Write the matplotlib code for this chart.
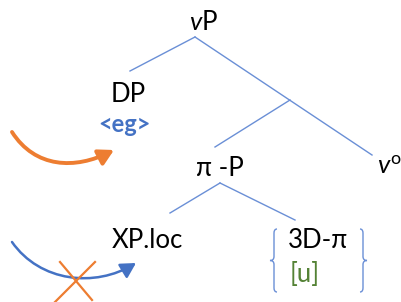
import matplotlib
matplotlib.use("Agg")
import matplotlib.pyplot as plt
from matplotlib.path import Path
from matplotlib.patches import PathPatch, FancyArrowPatch

W, H = 401, 302
BLUE = "#4472C4"
LINE = "#6A8FD6"
ORANGE = "#ED7D31"
GREEN = "#548235"

# node labels
node_labels = ["$v$P", "DP", "π -P", r"$v^{\mathrm{o}}$", "XP.loc", "3D-π"]
feature_labels = ["<eg>", "[u]"]

plt.rcParams['font.family'] = ['Lato', 'DejaVu Sans']
plt.rcParams['mathtext.fontset'] = 'custom'
plt.rcParams['mathtext.it'] = 'Lato:italic'
plt.rcParams['mathtext.rm'] = 'Lato'

fig = plt.figure(figsize=(W / 100, H / 100), dpi=100)
ax = fig.add_axes([0, 0, 1, 1])
ax.set_xlim(0, W)
ax.set_ylim(H, 0)
ax.axis("off")

FS = 18.5
node_pos = [(204, 22), (128, 94), (220, 169), (389, 166), (147, 241), (318, 240)]
for lab, (x, y) in zip(node_labels, node_pos):
    ax.text(x, y, lab, fontsize=FS, ha="center", va="center")

ax.text(124, 125, feature_labels[0], fontsize=17, ha="center", va="center",
        color=BLUE, fontweight="bold")
ax.text(305, 274, feature_labels[1], fontsize=FS, ha="center", va="center", color=GREEN)

# tree branches
lw = 1.0
ax.plot([130, 195], [71, 37], color=LINE, lw=lw)
ax.plot([195, 372], [37, 155], color=LINE, lw=lw)
ax.plot([215, 290], [147, 100], color=LINE, lw=lw)
ax.plot([170, 220], [213, 183], color=LINE, lw=lw)
ax.plot([220, 295], [183, 220], color=LINE, lw=lw)

# braces
def brace(x_edge, x_tip, y0, y1):
    ym = (y0 + y1) / 2
    s = 1 if x_tip < x_edge else -1
    xe = x_edge
    xm = x_edge - s * 3
    verts = [(xe, y0), (xm, y0), (xm, y0 + 4),
             (xm, ym - 4),
             (xm, ym), (x_tip, ym),
             (xm, ym), (xm, ym + 4),
             (xm, y1 - 4),
             (xm, y1), (xe, y1)]
    codes = [Path.MOVETO, Path.CURVE3, Path.CURVE3,
             Path.LINETO,
             Path.CURVE3, Path.CURVE3,
             Path.CURVE3, Path.CURVE3,
             Path.LINETO,
             Path.CURVE3, Path.CURVE3]
    ax.add_patch(PathPatch(Path(verts, codes), fill=False, ec=LINE, lw=1.0))

brace(277, 270, 229, 292)
brace(360, 367, 229, 292)

# curved arrows
def curve_arrow(p0, p1, p2, p3, color, lw, hw, hl):
    path = Path([p0, p1, p2, p3], [Path.MOVETO, Path.CURVE4, Path.CURVE4, Path.CURVE4])
    ar = FancyArrowPatch(path=path, arrowstyle=f"-|>,head_width={hw},head_length={hl}",
                         color=color, lw=lw, mutation_scale=1)
    ax.add_patch(ar)

curve_arrow((12, 132), (35, 168), (75, 170), (114, 150), ORANGE, 2.8, 5, 9)
curve_arrow((12, 242), (40, 282), (95, 288), (136, 263), BLUE, 1.8, 5, 9)

# cross
ax.plot([60, 92], [262, 300], color=ORANGE, lw=1.6)
ax.plot([95, 55], [262, 302], color=ORANGE, lw=1.6)

fig.savefig("out.png", dpi=100)
